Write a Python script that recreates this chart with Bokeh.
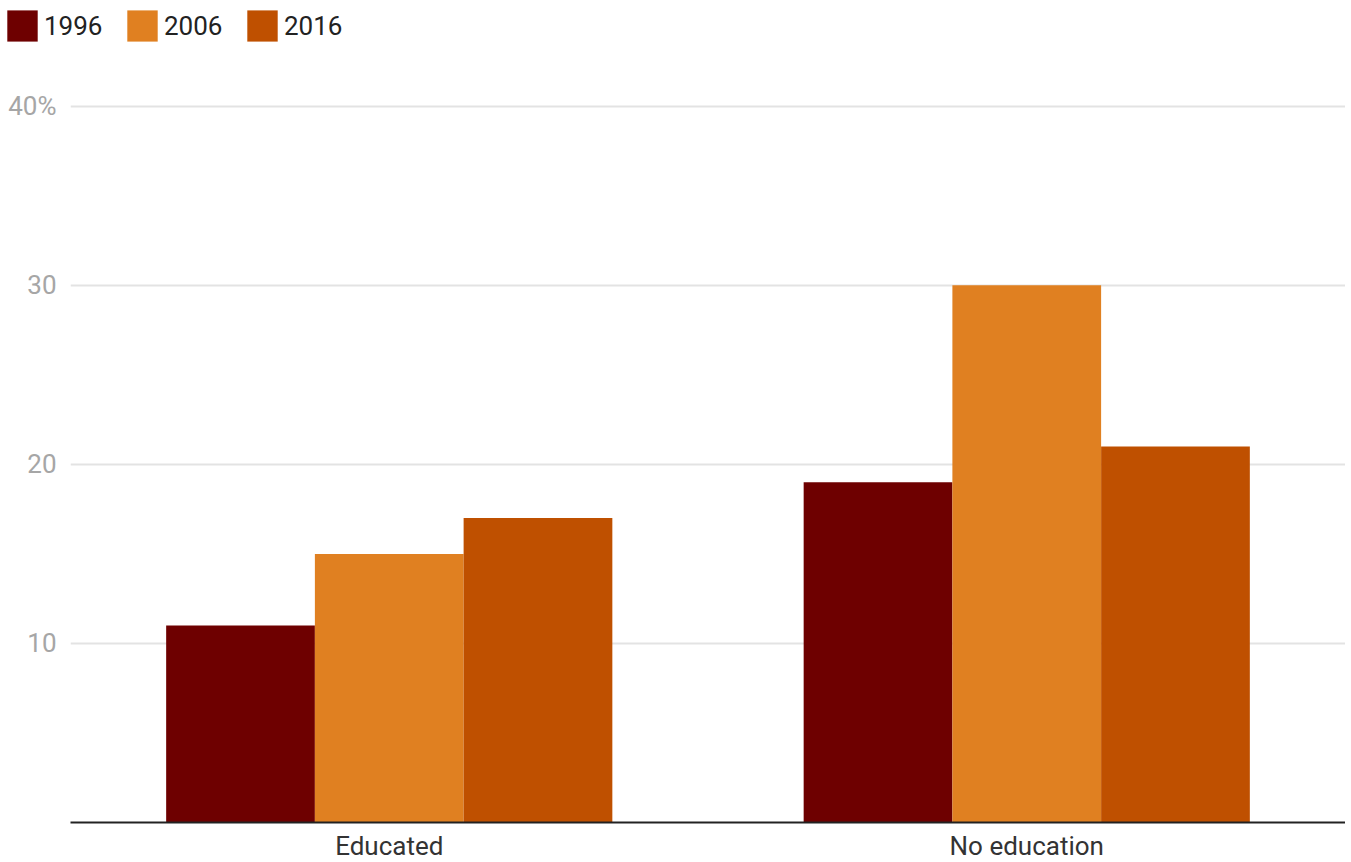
from bokeh.plotting import figure
from bokeh.models import FixedTicker, Legend, LegendItem, ColumnDataSource, Range1d, FactorRange
from bokeh.layouts import column
from bokeh.transform import dodge
from bokeh.embed import file_html
from bokeh.resources import INLINE

categories = ["Educated", "No education"]
years = ["1996", "2006", "2016"]
v1996 = [11, 19]
v2006 = [15, 30]
v2016 = [17, 21]
colors = ["#6e0000", "#e08021", "#bf5000"]
tick_values = [10, 20, 30, 40]
tick_labels = ["10", "20", "30", "40%"]

src = ColumnDataSource(dict(cat=categories, y1996=v1996, y2006=v2006, y2016=v2016))

LH = 50
FH = 718
p = figure(x_range=FactorRange(*categories, range_padding=0), y_range=Range1d(0, 40.1),
           frame_width=1275, frame_height=FH, output_backend="svg", toolbar_location=None,
           min_border_left=70, min_border_right=0, min_border_top=104 - LH, min_border_bottom=40)
p.outline_line_color = None

bw = 0.2333
offs = [-bw, 0, bw]
for yr, off, c in zip(years, offs, colors):
    p.vbar(x=dodge("cat", off, range=p.x_range), top="y" + yr, width=bw, source=src,
           fill_color=c, line_color=None)

p.ygrid.ticker = FixedTicker(ticks=tick_values)
p.ygrid.grid_line_color = "#e3e3e3"
p.ygrid.grid_line_width = 2
p.xgrid.grid_line_color = None

p.yaxis.ticker = FixedTicker(ticks=tick_values)
p.yaxis.major_label_overrides = {v: l for v, l in zip(tick_values, tick_labels)}
p.yaxis.axis_line_color = None
p.yaxis.major_tick_line_color = None
p.yaxis.minor_tick_line_color = None
p.yaxis.major_tick_out = 0
p.yaxis.major_label_text_font = "Roboto"
p.yaxis.major_label_text_font_size = "26px"
p.yaxis.major_label_text_color = "#a6a6a6"
p.yaxis.major_label_standoff = 14

p.xaxis.axis_line_color = "#222222"
p.xaxis.axis_line_width = 2
p.xaxis.major_tick_line_color = None
p.xaxis.minor_tick_line_color = None
p.xaxis.major_tick_out = 0
p.xaxis.major_label_text_font = "Roboto"
p.xaxis.major_label_text_font_size = "26px"
p.xaxis.major_label_text_color = "#333333"
p.xaxis.major_label_standoff = 8

# legend strip above the chart (its swatch renderers sit outside the visible range)
lf = figure(width=1345, height=LH, x_range=Range1d(0, 1), y_range=Range1d(0, 1),
            output_backend="svg", toolbar_location=None,
            min_border_left=0, min_border_right=0, min_border_top=0, min_border_bottom=0)
if "frame_align" in lf.properties():
    lf.frame_align = False
    p.frame_align = False
lf.axis.visible = False
lf.grid.visible = False
lf.outline_line_color = None
items = []
for yr, c in zip(years, colors):
    r = lf.vbar(x=[-5], top=[-5], bottom=[-6], width=0.1, fill_color=c, line_color=None)
    items.append(LegendItem(label=yr, renderers=[r]))
legend = Legend(items=items, orientation="horizontal", location=(3, LH - 6 - 39),
                padding=0, margin=0, spacing=0, glyph_width=38, glyph_height=39,
                label_standoff=3, label_width=79, label_text_font="Roboto",
                label_text_font_size="26px", label_text_color="#222222",
                border_line_color=None, background_fill_alpha=0)
lf.add_layout(legend, "center")

layout = column(lf, p, spacing=0)
open("out.html", "w").write(file_html(layout, INLINE))
